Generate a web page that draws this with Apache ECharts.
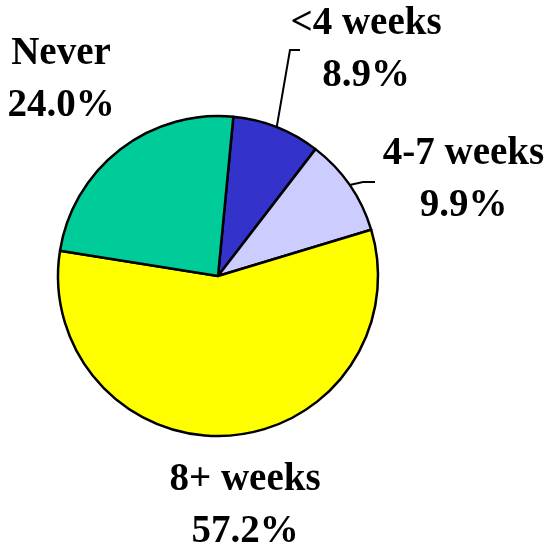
<!DOCTYPE html>
<html>
<head>
<meta charset="utf-8">
<script src="https://cdn.jsdelivr.net/npm/echarts@6/dist/echarts.min.js"></script>
<style>
  html, body { margin: 0; padding: 0; background: #ffffff; }
  #chart { width: 547px; height: 548px; }
</style>
</head>
<body>
<div id="chart"></div>
<script>
// ---- data ----
const categories = ['<4 weeks', '4-7 weeks', '8+ weeks', 'Never'];
const shares = [8.9, 9.9, 57.2, 24.0];
const sliceColors = ['#3333CC', '#CCCCFF', '#FFFF00', '#00CC99'];

// ---- label placement (layout only) ----
// label block centre, and label-line turn/end offsets relative to that centre
const labelSpots = [
  { x: 366, y: 50, line: [[-76, 0], [-66, 0]] },
  { x: 463.5, y: 180, line: [[-100.5, 2], [-88.5, 2]] },
  { x: 245, y: 506, line: null },
  { x: 61, y: 79.5, line: null }
];

const chart = echarts.init(document.getElementById('chart'), null, { renderer: 'canvas' });

const seriesData = categories.map((name, i) => ({
  name: name,
  value: shares[i],
  itemStyle: { color: sliceColors[i] },
  labelLine: { show: !!labelSpots[i].line }
}));

chart.setOption({
  backgroundColor: '#ffffff',
  animation: false,
  series: [{
    type: 'pie',
    center: [218, 276],
    radius: 160,
    startAngle: 84.5,
    clockwise: true,
    avoidLabelOverlap: false,
    data: seriesData,
    itemStyle: { borderColor: '#000000', borderWidth: 2.5 },
    emphasis: { disabled: true },
    label: {
      show: true,
      position: 'outside',
      formatter: p => p.name + '\n' + p.value.toFixed(1) + '%',
      fontFamily: 'Liberation Serif',
      fontWeight: 'bold',
      fontSize: 39,
      lineHeight: 52,
      color: '#000000'
    },
    labelLine: {
      show: true,
      lineStyle: { color: '#000000', width: 2 },
      length: 20,
      length2: 10
    },
    labelLayout: function (params) {
      const spot = labelSpots[params.dataIndex];
      const out = { x: spot.x, y: spot.y, align: 'center', verticalAlign: 'middle' };
      if (spot.line && params.labelLinePoints) {
        const start = params.labelLinePoints[0];
        out.labelLinePoints = [
          [start[0], start[1]],
          [spot.x + spot.line[0][0], spot.y + spot.line[0][1]],
          [spot.x + spot.line[1][0], spot.y + spot.line[1][1]]
        ];
      }
      return out;
    }
  }]
});
</script>
</body>
</html>
